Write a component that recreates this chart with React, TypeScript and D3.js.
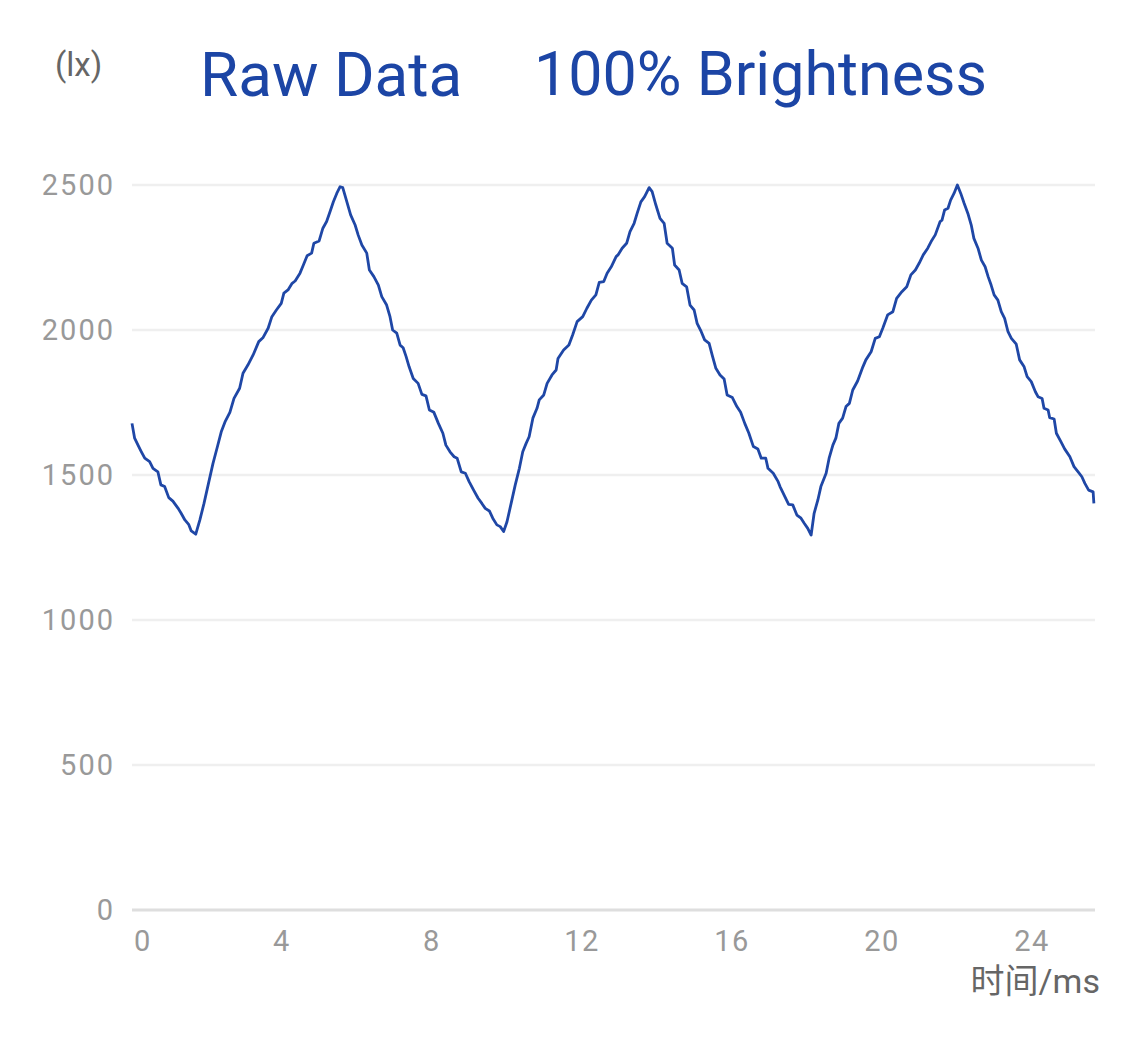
import React from "react";
import * as d3 from "d3";

const timeMs: number[] = [
  0.0, 0.07, 0.16, 0.25, 0.34, 0.47, 0.56, 0.69, 0.77, 0.87, 0.98, 1.09, 1.23, 1.31, 1.41, 1.51, 1.58, 1.7,
  1.81, 1.92, 2.05, 2.16, 2.27, 2.38, 2.49, 2.61, 2.72, 2.87, 2.96, 3.09, 3.23, 3.38, 3.49, 3.63, 3.73, 3.85,
  3.98, 4.05, 4.16, 4.27, 4.35, 4.48, 4.57, 4.67, 4.79, 4.85, 4.99, 5.09, 5.19, 5.28, 5.37, 5.46, 5.55, 5.62,
  5.73, 5.83, 5.95, 6.03, 6.13, 6.26, 6.33, 6.45, 6.57, 6.66, 6.79, 6.88, 6.95, 7.06, 7.15, 7.23, 7.31, 7.39,
  7.5, 7.63, 7.73, 7.84, 7.93, 8.05, 8.17, 8.29, 8.37, 8.48, 8.59, 8.67, 8.78, 8.89, 8.99, 9.11, 9.23, 9.33,
  9.42, 9.53, 9.62, 9.73, 9.82, 9.91, 10.0, 10.11, 10.22, 10.33, 10.42, 10.51, 10.59, 10.69, 10.8, 10.86,
  10.98, 11.07, 11.2, 11.31, 11.36, 11.51, 11.65, 11.75, 11.87, 12.02, 12.13, 12.25, 12.37, 12.46, 12.58,
  12.67, 12.78, 12.91, 12.96, 13.07, 13.19, 13.28, 13.39, 13.47, 13.57, 13.67, 13.79, 13.87, 13.97, 14.08,
  14.19, 14.27, 14.41, 14.47, 14.59, 14.67, 14.79, 14.88, 14.99, 15.07, 15.18, 15.27, 15.39, 15.47, 15.57,
  15.68, 15.79, 15.87, 16.01, 16.13, 16.23, 16.34, 16.45, 16.57, 16.69, 16.78, 16.9, 16.96, 17.1, 17.23,
  17.28, 17.39, 17.51, 17.62, 17.73, 17.84, 17.93, 18.02, 18.11, 18.19, 18.29, 18.37, 18.51, 18.59, 18.69,
  18.77, 18.85, 18.95, 19.04, 19.13, 19.22, 19.35, 19.49, 19.57, 19.71, 19.82, 19.93, 20.02, 20.15, 20.29,
  20.39, 20.53, 20.66, 20.77, 20.89, 20.99, 21.1, 21.22, 21.31, 21.42, 21.55, 21.6, 21.67, 21.76, 21.83,
  21.92, 22.01, 22.1, 22.19, 22.29, 22.38, 22.45, 22.56, 22.65, 22.75, 22.83, 22.91, 22.99, 23.09, 23.18,
  23.27, 23.36, 23.45, 23.58, 23.67, 23.79, 23.87, 23.98, 24.09, 24.16, 24.27, 24.32, 24.43, 24.47, 24.59,
  24.65, 24.77, 24.87, 25.01, 25.12, 25.23, 25.33, 25.41, 25.51, 25.63, 25.65,
];

const illuminanceLx: number[] = [
  1678, 1627, 1603, 1580, 1558, 1546, 1523, 1511, 1466, 1460, 1422, 1410, 1385, 1368, 1345, 1330, 1307, 1296,
  1345, 1402, 1477, 1540, 1594, 1649, 1686, 1716, 1764, 1799, 1851, 1879, 1914, 1960, 1973, 2006, 2046, 2069,
  2092, 2127, 2138, 2161, 2169, 2196, 2224, 2256, 2265, 2299, 2307, 2351, 2374, 2408, 2442, 2471, 2494, 2491,
  2442, 2397, 2362, 2328, 2293, 2265, 2207, 2184, 2155, 2115, 2086, 2046, 2000, 1989, 1948, 1939, 1908, 1873,
  1833, 1816, 1778, 1773, 1724, 1716, 1678, 1644, 1603, 1580, 1563, 1558, 1511, 1506, 1477, 1448, 1420, 1402,
  1385, 1376, 1351, 1328, 1322, 1305, 1339, 1402, 1466, 1523, 1580, 1609, 1632, 1696, 1730, 1759,
  1776, 1816, 1845, 1862, 1902, 1931, 1948, 1983, 2029, 2046, 2075, 2103, 2121, 2164, 2167,
  2196, 2218, 2253, 2259, 2282, 2299, 2339, 2368, 2402, 2442, 2460, 2491, 2477, 2431, 2385,
  2368, 2299, 2282, 2224, 2207, 2161, 2149, 2086, 2069, 2023, 1994, 1966, 1954, 1914, 1868,
  1845, 1831, 1776, 1767, 1736, 1716, 1678, 1644, 1598, 1590, 1558, 1558, 1523, 1506, 1477,
  1460, 1431, 1399, 1397, 1362, 1351, 1333, 1316, 1293, 1368, 1414, 1460, 1506, 1558, 1603,
  1627, 1678, 1696, 1736, 1747, 1793, 1824, 1873, 1897, 1925, 1971, 1977, 2006, 2052, 2063,
  2109, 2132, 2149, 2190, 2207, 2230, 2259, 2282, 2305, 2328, 2374, 2379, 2414, 2420, 2448,
  2471, 2500, 2471, 2437, 2402, 2362, 2316, 2282, 2241, 2218, 2184, 2155, 2121, 2103, 2063,
  2040, 1994, 1971, 1951, 1897, 1873, 1839, 1822, 1787, 1770, 1764, 1730, 1724, 1698, 1693,
  1644, 1615, 1590, 1563, 1529, 1511, 1494, 1471, 1448, 1442, 1402,
];

const yTicks: number[] = [0, 500, 1000, 1500, 2000, 2500];
const xTicks: number[] = [0, 4, 8, 12, 16, 20, 24];
const titleLeft = "Raw Data";
const titleRight = "100% Brightness";
const yUnit = "(lx)";
const xUnit = "时间/ms";

const W = 1125;
const H = 1040;
const M = { left: 132, right: 1095, top: 185, bottom: 910 };

export default function App() {
  const x = d3.scaleLinear().domain([0, 25.68]).range([M.left, M.right]);
  const y = d3.scaleLinear().domain([0, 2500]).range([M.bottom, M.top]);
  const pts = timeMs.map((t, i) => [t, illuminanceLx[i]] as [number, number]);
  const line = d3
    .line<[number, number]>()
    .x((d) => x(d[0]))
    .y((d) => y(d[1]));
  const font = "Roboto, 'Noto Sans CJK SC', sans-serif";
  return (
    <svg
      width={W}
      height={H}
      style={{ position: "absolute", left: 0, top: 0, background: "#fff" }}
      fontFamily={font}
    >
      {yTicks.map((v) => (
        <line
          key={"g" + v}
          x1={M.left}
          x2={M.right}
          y1={y(v)}
          y2={y(v)}
          stroke={v === 0 ? "#dedede" : "#efefef"}
          strokeWidth={v === 0 ? 3 : 2.5}
        />
      ))}
      {yTicks.map((v) => (
        <text
          key={"yl" + v}
          x={115}
          y={y(v)}
          dy="0.35em"
          textAnchor="end"
          fontSize={29}
          letterSpacing={2}
          fill="#999"
        >
          {v}
        </text>
      ))}
      {xTicks.map((v, i) => (
        <text
          key={"xl" + v}
          x={i === 0 ? x(v) + 2 : x(v)}
          y={941}
          dy="0.35em"
          textAnchor={i === 0 ? "start" : "middle"}
          fontSize={29}
          letterSpacing={1.5}
          fill="#999"
        >
          {v}
        </text>
      ))}
      <path d={line(pts) || ""} fill="none" stroke="#1f47a6" strokeWidth={2.8} strokeLinejoin="round" />
      <text x={55} y={64} dy="0.35em" fontSize={33} fill="#666">
        {yUnit}
      </text>
      <text x={1100} y={981} dy="0.35em" textAnchor="end" fontSize={34} fill="#666">
        {xUnit}
      </text>
      <text x={200} y={74} dy="0.35em" fontSize={62} fill="#1c45a5">
        {titleLeft}
      </text>
      <text x={534} y={74} dy="0.35em" fontSize={61} fill="#1c45a5">
        {titleRight}
      </text>
    </svg>
  );
}
